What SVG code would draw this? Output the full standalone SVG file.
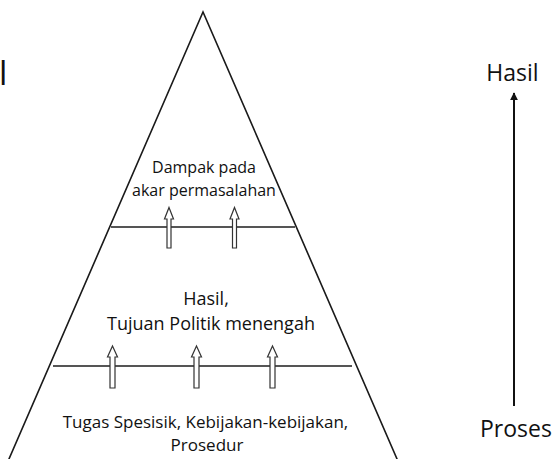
<svg xmlns="http://www.w3.org/2000/svg" width="556" height="459" viewBox="0 0 556 459">
  <defs>
    <style>
      .t { font-family: "Open Sans", "Liberation Sans", sans-serif; fill: #111; text-anchor: middle; }
      .edge { fill: none; stroke: #1a1a1a; stroke-width: 1.6; }
      .div { stroke: #555; stroke-width: 2; }
      .hollow { fill: #fff; stroke: #333; stroke-width: 1.2; stroke-linejoin: miter; }
    </style>
    <marker id="ah" viewBox="0 0 10 10" refX="9" refY="5" markerWidth="4" markerHeight="4.5" orient="auto">
      <path d="M0,0 L10,5 L0,10 z" fill="#111"/>
    </marker>
  </defs>
  <rect width="556" height="459" fill="#fff"/>

  <text class="t" x="-1" y="85" style="text-anchor:start;font-size:33px">l</text>

  <g id="pyramid">
    <path class="edge" d="M4.2,470 L203,12 L401.8,470"/>
    <line class="div" x1="111" y1="227" x2="295" y2="227"/>
    <line class="div" x1="53" y1="366" x2="352" y2="366"/>
  </g>

  <g id="level-top">
    <text class="t" x="204" y="173" font-size="16">Dampak pada</text>
    <text class="t" x="204" y="196" font-size="16">akar permasalahan</text>
  </g>

  <g id="level-middle">
    <text class="t" x="206" y="305" font-size="18">Hasil,</text>
    <text class="t" x="211" y="330" font-size="18">Tujuan Politik menengah</text>
  </g>

  <g id="level-bottom">
    <text class="t" x="205.5" y="428" font-size="17">Tugas Spesisik, Kebijakan-kebijakan,</text>
    <text class="t" x="207" y="451" font-size="17">Prosedur</text>
  </g>

  <g id="axis-top">
    <text class="t" x="512.5" y="81" font-size="23">Hasil</text>
  </g>
  <g id="axis-bottom">
    <text class="t" x="516" y="437" font-size="23">Proses</text>
  </g>

  <g id="connectors">
    <path class="hollow" d="M169,207.5 L173.5,219 L171,219 L171,248 L167,248 L167,219 L164.5,219 Z"/>
    <path class="hollow" d="M234.5,207.5 L239,219 L236.5,219 L236.5,248 L232.5,248 L232.5,219 L230,219 Z"/>
    <path class="hollow" d="M112.5,346 L117.5,357 L115,357 L115,388 L110,388 L110,357 L107.5,357 Z"/>
    <path class="hollow" d="M196.5,346 L201.5,357 L199,357 L199,388 L194,388 L194,357 L191.5,357 Z"/>
    <path class="hollow" d="M272.5,346 L277.5,357 L275,357 L275,388 L270,388 L270,357 L267.5,357 Z"/>
    <line x1="514" y1="406" x2="514" y2="93" stroke="#111" stroke-width="2" marker-end="url(#ah)"/>
  </g>
</svg>
